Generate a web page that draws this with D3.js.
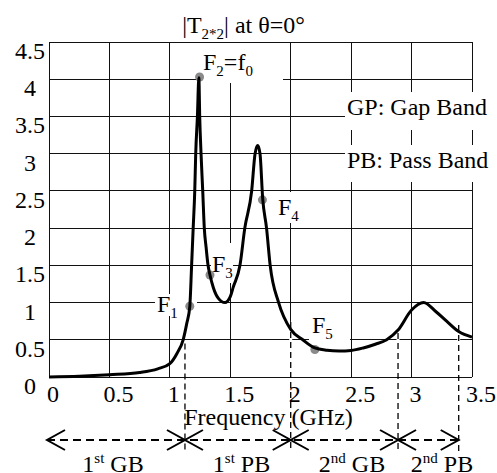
<!DOCTYPE html>
<html><head><meta charset="utf-8">
<script src="https://cdn.jsdelivr.net/npm/d3@7"></script>
<style>html,body{margin:0;padding:0;background:#fff;}svg{display:block;} text{font-family:"Liberation Serif","Times New Roman","DejaVu Serif",serif;}</style>
</head><body>
<script>
// ---- data ----
const freq = [0, 0.25, 0.5, 0.75, 0.9, 1.0, 1.06, 1.11, 1.14, 1.165, 1.18, 1.193, 1.206, 1.214, 1.228, 1.24, 1.247, 1.258, 1.272, 1.285, 1.30, 1.316, 1.332, 1.36, 1.40, 1.456, 1.50, 1.525, 1.58, 1.62, 1.677, 1.705, 1.727, 1.746, 1.768, 1.80, 1.83, 1.90, 2.0, 2.1, 2.2, 2.3, 2.4, 2.5, 2.6, 2.7, 2.794, 2.888, 3.0, 3.1, 3.2, 3.29, 3.39, 3.5];
const tMag = [0, 0.01, 0.03, 0.06, 0.11, 0.18, 0.32, 0.5, 0.72, 0.95, 1.5, 2.0, 2.5, 3.0, 3.5, 4.02, 3.5, 3.0, 2.5, 2.0, 1.74, 1.5, 1.37, 1.2, 1.06, 1.0, 1.08, 1.21, 1.5, 2.0, 2.5, 3.0, 3.11, 3.0, 2.4, 2.0, 1.5, 1.0, 0.64, 0.5, 0.39, 0.36, 0.35, 0.357, 0.39, 0.44, 0.5, 0.63, 0.9, 1.0, 0.88, 0.75, 0.61, 0.535];
const xTicks = [0, 0.5, 1, 1.5, 2, 2.5, 3, 3.5];
const yTicks = [0, 0.5, 1, 1.5, 2, 2.5, 3, 3.5, 4, 4.5];
const markNames = ["1", "2", "3", "4", "5"];
const markFreq = [1.165, 1.246, 1.332, 1.766, 2.2];
const markVal = [0.95, 4.03, 1.37, 2.38, 0.37];
const bandEdges = [1.125, 2.0, 2.888, 3.39];
const bandEdgeTop = [0.45, 0.74, 0.59, 0.70];
const bandNum = ["1", "1", "2", "2"];
const bandSup = ["st", "st", "nd", "nd"];
const bandName = ["GB", "PB", "GB", "PB"];

// ---- layout ----
const W = 497, H = 473;
const FONT = "Liberation Serif, Times New Roman, DejaVu Serif, serif";
const x = d3.scaleLinear().domain([0, 3.5]).range([49, 472]);
const y = d3.scaleLinear().domain([0, 4.5]).range([377, 42]);

const svg = d3.select("body").append("svg").attr("width", W).attr("height", H);
svg.append("rect").attr("width", W).attr("height", H).attr("fill", "#fff");

// grid
const grid = svg.append("g").attr("stroke", "#111").attr("stroke-width", 1).attr("shape-rendering", "crispEdges");
grid.selectAll(".v").data(xTicks).join("line")
  .attr("x1", d => x(d)).attr("x2", d => x(d)).attr("y1", y(4.5)).attr("y2", y(0));
grid.selectAll(".h").data(yTicks).join("line")
  .attr("x1", x(0)).attr("x2", x(3.5)).attr("y1", d => y(d)).attr("y2", d => y(d));

// white label boxes (knock out grid behind labels)
const boxes = [[201, 43, 82, 40], [155, 294, 42, 22], [211, 243, 22, 40], [274, 192, 31, 31],
  [309, 312, 41, 29], [345, 92, 152, 38], [345, 145, 152, 37]];
svg.append("g").selectAll("rect").data(boxes).join("rect")
  .attr("x", d => d[0]).attr("y", d => d[1]).attr("width", d => d[2]).attr("height", d => d[3])
  .attr("fill", "#fff");

// band edge dashed verticals
const edges = svg.append("g");
edges.selectAll(".w").data(bandEdges).join("line")
  .attr("x1", d => x(d)).attr("x2", d => x(d))
  .attr("y1", (d, i) => y(bandEdgeTop[i])).attr("y2", y(0) - 1)
  .attr("stroke", "#fff").attr("stroke-width", 3);
edges.selectAll(".d").data(bandEdges).join("line")
  .attr("x1", d => x(d)).attr("x2", d => x(d))
  .attr("y1", (d, i) => y(bandEdgeTop[i])).attr("y2", 452)
  .attr("stroke", "#000").attr("stroke-width", 1.3).attr("stroke-dasharray", "6,4");

// markers
svg.append("g").selectAll("circle").data(markFreq).join("circle")
  .attr("cx", d => x(d)).attr("cy", (d, i) => y(markVal[i])).attr("r", 4.5)
  .attr("fill", "#8a8a8a");

// curve
const pts = freq.map((f, i) => [f, tMag[i]]);
svg.append("path").datum(pts)
  .attr("d", d3.line().x(d => x(d[0])).y(d => y(d[1])).curve(d3.curveMonotoneX))
  .attr("fill", "none").attr("stroke", "#000").attr("stroke-width", 3).attr("stroke-linejoin", "round");

// rich text helper
function rich(g, px, py, parts, anchor) {
  const t = g.append("text").attr("x", px).attr("y", py).attr("font-size", 24)
    .attr("text-anchor", anchor || "start").attr("fill", "#000");
  let shift = 0;
  parts.forEach(([s, k]) => {
    const target = k === "sub" ? 6 : k === "sup" ? -9 : 0;
    t.append("tspan").attr("dy", target - shift).attr("font-size", k === "n" ? 24 : 15).text(s);
    shift = target;
  });
  return t;
}
const txt = svg.append("g").attr("font-family", FONT).attr("fill", "#000");

// title
rich(txt, 243.5, 33, [["|T", "n"], ["2*2", "sub"], ["| at θ=0°", "n"]], "middle");

// tick labels
txt.selectAll(".yl").data(yTicks).join("text")
  .attr("x", 30).attr("y", d => y(d) + 17).attr("text-anchor", "middle").attr("font-size", 24)
  .text(d => d);
txt.selectAll(".xl").data(xTicks).join("text")
  .attr("x", d => x(d) + (Number.isInteger(d) ? 4 : 9)).attr("y", 402)
  .attr("text-anchor", "middle").attr("font-size", 24).text(d => d);
txt.append("text").attr("x", 268.5).attr("y", 425).attr("text-anchor", "middle")
  .attr("font-size", 24).text("Frequency (GHz)");

// marker labels
rich(txt, 203, 70, [["F", "n"], [markNames[1], "sub"], ["=f", "n"], ["0", "sub"]]);
rich(txt, 157, 312, [["F", "n"], [markNames[0], "sub"]]);
rich(txt, 212, 272, [["F", "n"], [markNames[2], "sub"]]);
rich(txt, 278, 215, [["F", "n"], [markNames[3], "sub"]]);
rich(txt, 312, 333, [["F", "n"], [markNames[4], "sub"]]);

// legend notes
txt.append("text").attr("x", 347).attr("y", 115).attr("font-size", 24).text("GP: Gap Band");
txt.append("text").attr("x", 347).attr("y", 168).attr("font-size", 24).text("PB: Pass Band");

// band arrows
const ay = 440;
const arr = svg.append("g").attr("stroke", "#000").attr("fill", "none");
arr.append("line").attr("x1", x(0) - 2).attr("x2", x(bandEdges[3])).attr("y1", ay).attr("y2", ay)
  .attr("stroke-width", 2).attr("stroke-dasharray", "8,5");
const ah = 18, av = 10;
arr.append("path").attr("d", `M${x(0) - 2 + ah},${ay - av}L${x(0) - 2},${ay}L${x(0) - 2 + ah},${ay + av}`).attr("stroke-width", 2);
bandEdges.forEach((e, i) => {
  const ex = x(e);
  arr.append("path").attr("d", `M${ex - ah},${ay - av}L${ex},${ay}L${ex - ah},${ay + av}`).attr("stroke-width", 2);
  if (i < bandEdges.length - 1)
    arr.append("path").attr("d", `M${ex + ah},${ay - av}L${ex},${ay}L${ex + ah},${ay + av}`).attr("stroke-width", 2);
});
// band labels
const centers = [113, 241.5, 352, 442];
bandName.forEach((n, i) => {
  rich(txt, centers[i], 472, [[bandNum[i], "n"], [bandSup[i], "sup"], [" " + n, "n"]], "middle");
});
</script>
</body></html>
